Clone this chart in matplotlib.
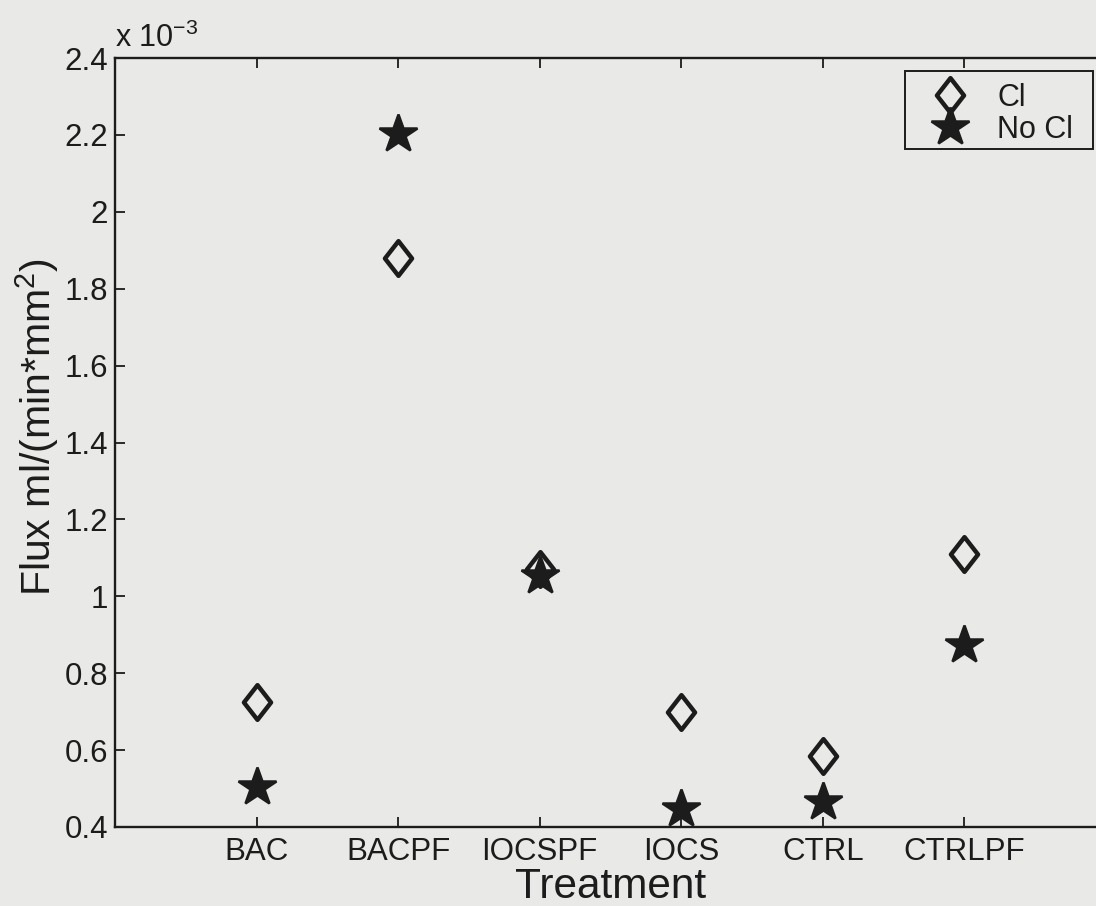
import matplotlib
matplotlib.use("Agg")
import matplotlib.pyplot as plt
from matplotlib.path import Path
from matplotlib.patches import Rectangle
from matplotlib.ticker import FuncFormatter

plt.rcParams['font.family'] = ['Liberation Sans', 'DejaVu Sans']
plt.rcParams['mathtext.fontset'] = 'custom'
plt.rcParams['mathtext.rm'] = 'Liberation Sans'
plt.rcParams['mathtext.it'] = 'Liberation Sans'
plt.rcParams['mathtext.bf'] = 'Liberation Sans:bold'

# Data (flux in units of 1e-3 ml/(min*mm^2))
treatments = ["BAC", "BACPF", "IOCSPF", "IOCS", "CTRL", "CTRLPF"]
flux_cl = [0.725, 1.880, 1.071, 0.700, 0.585, 1.110]
flux_no_cl = [0.504, 2.202, 1.053, 0.446, 0.464, 0.874]
y_ticks = [0.4, 0.6, 0.8, 1.0, 1.2, 1.4, 1.6, 1.8, 2.0, 2.2, 2.4]

W, H = 1096, 906
bg = '#e9e9e7'
ink = '#1c1c1c'
fig = plt.figure(figsize=(W / 100, H / 100), dpi=100, facecolor=bg)
ax = fig.add_axes([115/W, 1-827/H, (1106-115)/W, (827-58)/H])
ax.set_facecolor(bg)

diamond = Path([(0, 1), (0.78, 0), (0, -1), (-0.78, 0), (0, 1)],
               [Path.MOVETO, Path.LINETO, Path.LINETO, Path.LINETO, Path.CLOSEPOLY])

x = list(range(1, len(treatments) + 1))
ax.plot(x, flux_cl, linestyle='none', marker=diamond, markersize=25,
        markerfacecolor='none', markeredgecolor=ink, markeredgewidth=3.2,
        label='Cl')
ax.plot(x, flux_no_cl, linestyle='none', marker='*', markersize=29,
        markerfacecolor=ink, markeredgecolor=ink, markeredgewidth=1.8,
        label='No Cl')

ax.set_xlim(0, 7)
ax.set_ylim(0.4, 2.4)
ax.set_xticks(x)
ax.set_xticklabels(treatments)
ax.set_yticks(y_ticks)
ax.yaxis.set_major_formatter(FuncFormatter(lambda v, p: f"{v:g}"))

for s in ax.spines.values():
    s.set_linewidth(1.7)
    s.set_color(ink)
ax.tick_params(direction='in', length=7, width=1.3, colors=ink,
               top=True, right=True, labelsize=22.5, pad=5)
ax.tick_params(axis='x', pad=7)
for lab in ax.get_xticklabels() + ax.get_yticklabels():
    lab.set_color(ink)

ax.set_xlabel('Treatment', fontsize=30.5, color=ink, labelpad=0)
ax.set_ylabel(r'Flux ml/(min*mm$^{2}$)', fontsize=29.5, color=ink)
ax.yaxis.set_label_coords(-0.054, 0.52)

ax.annotate(r'x 10$^{-3}$', xy=(0, 1), xycoords='axes fraction',
            xytext=(0, 8), textcoords='offset points', fontsize=22,
            color=ink, ha='left', va='baseline')

# legend (content without frame) + frame box like MATLAB's legend
leg = ax.legend(loc='upper left', fontsize=22, frameon=False,
                borderpad=0, handlelength=2.3, handletextpad=0.39,
                labelspacing=0.07, borderaxespad=0)
leg.set_bbox_to_anchor((915/W, 1 - 83/H), transform=fig.transFigure)
for t in leg.get_texts():
    t.set_color(ink)
fig.patches.append(Rectangle((905/W, 1 - 149/H), (1093-905)/W, (149-71)/H,
                             transform=fig.transFigure, fill=False,
                             edgecolor=ink, linewidth=1.4, zorder=5))

fig.savefig('out.png', dpi=100, facecolor=bg)
